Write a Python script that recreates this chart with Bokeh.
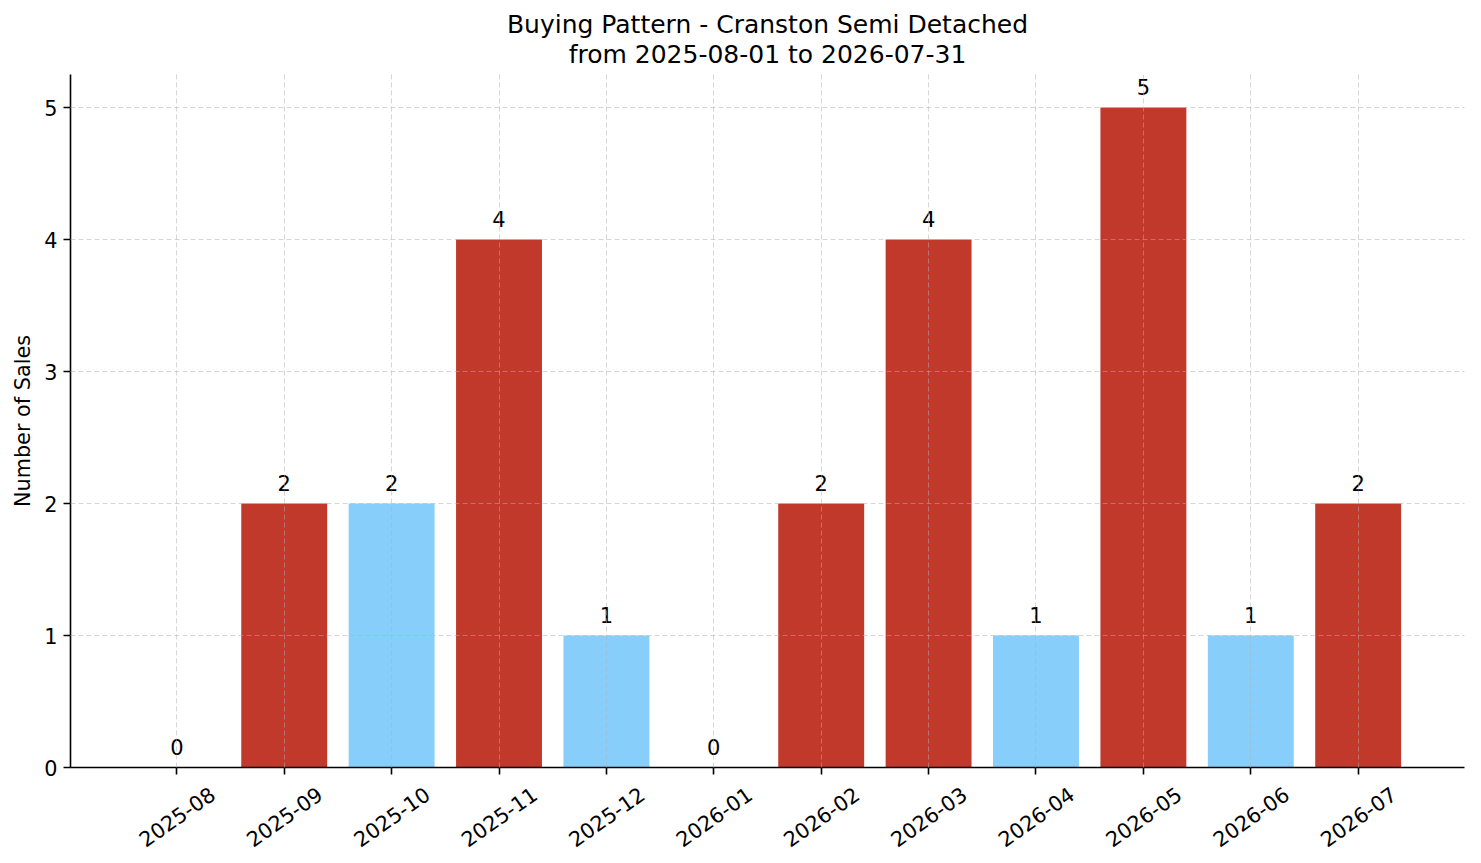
import math
from bokeh.plotting import figure
from bokeh.layouts import column
from bokeh.models import ColumnDataSource, FixedTicker, Title, Range1d
from bokeh.core.properties import value
from bokeh.embed import file_html
from bokeh.resources import INLINE

# data
months = ["2025-08", "2025-09", "2025-10", "2025-11", "2025-12", "2026-01",
          "2026-02", "2026-03", "2026-04", "2026-05", "2026-06", "2026-07"]
sales = [0, 2, 2, 4, 1, 0, 2, 4, 1, 5, 1, 2]
RED = "#c0392b"
BLUE = "#87cefa"
bar_colors = [RED, RED, BLUE, RED, BLUE, RED, RED, RED, BLUE, RED, BLUE, RED]
y_ticks = [0, 1, 2, 3, 4, 5]

FONT = "DejaVu Sans"
idx = list(range(len(months)))

src = ColumnDataSource(dict(x=idx, sales=sales, color=bar_colors,
                            label=[str(v) for v in sales], month=months))

W = 1465
H_MAIN = 781
H_LABELS = 74

p = figure(width=W, height=H_MAIN, title=None,
           x_range=Range1d(-0.99, 11.99), y_range=Range1d(0, 5.25),
           output_backend="svg", toolbar_location=None,
           min_border_left=70, min_border_right=1,
           min_border_top=74, min_border_bottom=14)
p.background_fill_color = "white"
p.border_fill_color = "white"
p.outline_line_color = None

p.vbar(x="x", top="sales", width=0.8, color="color", line_color=None, source=src)
p.text(x="x", y="sales", text="label", source=src, text_align="center",
       text_baseline="alphabetic", y_offset=-21, text_font_size="21px",
       text_font=value(FONT), text_color="black")

# titles (the one added last sits on top)
t2 = Title(text="from 2025-08-01 to 2026-07-31", align="center",
           text_font=FONT, text_font_size="25px", text_font_style="normal",
           text_color="black", standoff=11)
t1 = Title(text="Buying Pattern - Cranston Semi Detached", align="center",
           text_font=FONT, text_font_size="25px", text_font_style="normal",
           text_color="black", standoff=-12)
p.add_layout(t2, "above")
p.add_layout(t1, "above")

# grid
for g in (p.xgrid, p.ygrid):
    g.grid_line_color = "#b0b0b0"
    g.grid_line_alpha = 0.5
    g.grid_line_dash = "5 3"
    g.grid_line_width = 1
    g.level = "overlay"
p.xgrid.ticker = FixedTicker(ticks=idx)
p.ygrid.ticker = FixedTicker(ticks=y_ticks)

# axes
for ax in (p.xaxis, p.yaxis):
    ax.axis_line_color = "black"
    ax.axis_line_width = 1.6
    ax.major_tick_line_color = "black"
    ax.major_tick_line_width = 1.6
    ax.major_tick_out = 7
    ax.major_tick_in = 0
    ax.minor_tick_line_color = None
    ax.major_label_text_font = FONT
    ax.major_label_text_font_size = "20.8px"
    ax.major_label_text_color = "black"

p.xaxis.ticker = FixedTicker(ticks=idx)
p.xaxis.major_label_overrides = {i: "" for i in idx}
p.xaxis.major_label_text_font_size = "1px"
p.xaxis.major_label_standoff = 0
p.yaxis.ticker = FixedTicker(ticks=y_ticks)
p.yaxis.major_label_standoff = 6
p.yaxis.axis_label = "Number of Sales"
p.yaxis.axis_label_text_font = FONT
p.yaxis.axis_label_text_font_size = "20.8px"
p.yaxis.axis_label_text_font_style = "normal"
p.yaxis.axis_label_text_color = "black"
p.yaxis.axis_label_standoff = 6

# strip below the axis holding the rotated month labels
lab = figure(width=W, height=H_LABELS, title=None,
             x_range=p.x_range, y_range=Range1d(0, H_LABELS),
             x_axis_location=None, y_axis_location=None,
             output_backend="svg", toolbar_location=None,
             min_border_left=70, min_border_right=1,
             min_border_top=0, min_border_bottom=0)
lab.grid.visible = False
lab.outline_line_color = None
lab.background_fill_color = "white"
lab.border_fill_color = "white"
lab.text(x="x", y=H_LABELS - 35, text="month", source=src,
         angle=math.radians(35), text_align="center", text_baseline="middle",
         text_font=value(FONT), text_font_size="20.8px", text_color="black")

page = column(p, lab, spacing=0)
open("out.html", "w").write(file_html(page, INLINE))
